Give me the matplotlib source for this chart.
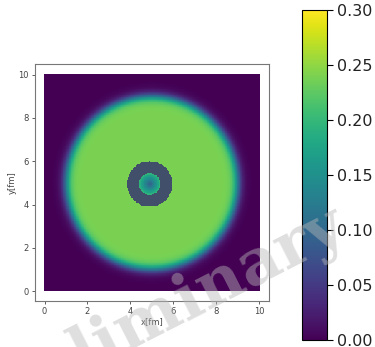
import numpy as np
import matplotlib.pyplot as plt

# grid of the field (fm)
grid_x = np.linspace(0, 10, 301)
grid_y = np.linspace(0, 10, 301)

# disc parameters
disc_center = [5.0, 5.0]
disc_radius = 4.0
disc_edge = 0.12
disc_level = 0.24

# small structure in the middle
hole_center = [4.9, 4.95]
ring_radii = [0.5, 1.05]          # inner / outer radius of the masked ring
core_levels = [0.09, 0.20]        # value at centre / at r = 0.5

X, Y = np.meshgrid(grid_x, grid_y)
r = np.hypot(X - disc_center[0], Y - disc_center[1])
field = disc_level / (1.0 + np.exp((r - disc_radius) / disc_edge))

rh = np.hypot(X - hole_center[0], Y - hole_center[1])
core = rh < ring_radii[0]
field[core] = core_levels[0] + (core_levels[1] - core_levels[0]) * rh[core] / ring_radii[0]
field = np.ma.masked_where((rh >= ring_radii[0]) & (rh < ring_radii[1]), field)

cmap = plt.get_cmap('viridis').copy()
cmap.set_bad('#414f6b')

fig = plt.figure(figsize=(3.75, 3.47), dpi=100)
ax = fig.add_axes([0.093, 0.133, 0.624, 0.683])
cax = fig.add_axes([0.805, 0.02, 0.068, 0.951])

im = ax.pcolormesh(X, Y, field, cmap=cmap, vmin=0, vmax=0.3, shading='nearest')
ax.set_xlim(-0.45, 10.45)
ax.set_ylim(-0.45, 10.5)
ax.set_xticks([0, 2, 4, 6, 8, 10])
ax.set_yticks([0, 2, 4, 6, 8, 10])
ax.tick_params(labelsize=6, length=2.5, width=0.6, colors='#444444', pad=2)
ax.set_xlabel('x[fm]', fontsize=6, color='#444444', labelpad=1)
ax.set_ylabel('y[fm]', fontsize=6, color='#444444', labelpad=1)
for s in ax.spines.values():
    s.set_color('#777777')
    s.set_linewidth(0.8)

cb = fig.colorbar(im, cax=cax)
cb.set_ticks([0, 0.05, 0.1, 0.15, 0.2, 0.25, 0.3])
cb.ax.yaxis.set_major_formatter(plt.FormatStrFormatter('%.2f'))
cb.ax.tick_params(labelsize=11.5, length=4, width=0.8, pad=3, labelcolor='#222222')
cb.outline.set_linewidth(0.8)

# watermark
fig.text(0.41, 0.083, 'Preliminary', fontsize=46, family='DejaVu Serif',
         fontweight='bold', color='#b8b8b8', alpha=0.45, rotation=27,
         ha='center', va='center', zorder=10)

plt.savefig('out.png', dpi=100)
